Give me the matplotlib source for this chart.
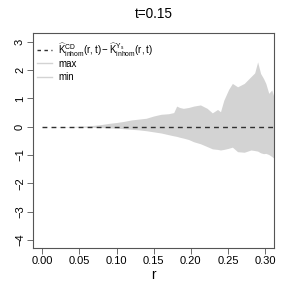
import matplotlib
matplotlib.use("Agg")
import matplotlib.pyplot as plt
from matplotlib.lines import Line2D

plt.rcParams['font.family'] = ['Liberation Sans', 'DejaVu Sans']
plt.rcParams['mathtext.fontset'] = 'custom'
plt.rcParams['mathtext.rm'] = 'Liberation Sans'
plt.rcParams['mathtext.it'] = 'Liberation Sans'
plt.rcParams['mathtext.sf'] = 'Liberation Sans'

title = "t=0.15"
r = [0, 0.02, 0.04, 0.05, 0.06, 0.07, 0.08, 0.09, 0.10,
     0.11, 0.12, 0.13, 0.14, 0.15, 0.16, 0.17,
     0.177, 0.181, 0.185, 0.19, 0.197, 0.204, 0.213, 0.222, 0.229, 0.236, 0.240, 0.2445,
     0.251, 0.256, 0.263, 0.272, 0.281, 0.286, 0.290, 0.294, 0.298, 0.301, 0.305, 0.309, 0.3125]
upper = [0, 0.003, 0.01, 0.02, 0.03, 0.05, 0.08, 0.12, 0.15,
         0.19, 0.24, 0.27, 0.30, 0.38, 0.44, 0.46,
         0.5, 0.73, 0.68, 0.65, 0.68, 0.73, 0.77, 0.65, 0.49, 0.61, 0.53, 0.94,
         1.32, 1.53, 1.41, 1.53, 1.77, 1.9, 2.29, 1.88, 1.7, 1.53, 1.18, 1.3, 1.0]
lower = [0, -0.002, -0.005, -0.01, -0.015, -0.02, -0.03, -0.04, -0.05,
         -0.07, -0.09, -0.11, -0.14, -0.18, -0.22, -0.28,
         -0.32, -0.34, -0.37, -0.4, -0.45, -0.53, -0.6, -0.7, -0.78, -0.8, -0.82, -0.8,
         -0.76, -0.72, -0.88, -0.9, -0.82, -0.84, -0.86, -0.92, -0.95, -0.94, -0.98, -1.05, -1.12]
diff = [0.0 for _ in r]
xticks = [0.00, 0.05, 0.10, 0.15, 0.20, 0.25, 0.30]
xticklabels = ["0.00", "0.05", "0.10", "0.15", "0.20", "0.25", "0.30"]
yticks = [-4, -3, -2, -1, 0, 1, 2, 3]
yticklabels = ["\u22124", "\u22123", "\u22122", "\u22121", "0", "1", "2", "3"]

fig = plt.figure(figsize=(2.91, 2.91), dpi=100)
ax = fig.add_axes([0.1145, 0.1478, 0.827, 0.7388])
ax.fill_between(r, lower, upper, color='#D3D3D3', linewidth=0)
ax.plot(r, diff, color='#303030', linestyle=(0, (3.5, 3)), linewidth=1.0)
ax.set_xlim(-0.012, 0.312)
ax.set_ylim(-4.28, 3.31)
ax.set_xticks(xticks)
ax.set_xticklabels(xticklabels, fontsize=8)
ax.set_yticks(yticks)
ax.set_yticklabels(yticklabels, fontsize=8, rotation=90, va='center')
ax.tick_params(direction='out', length=4, width=0.6, color='#555555', pad=2)
for s in ax.spines.values():
    s.set_linewidth(0.8)
    s.set_color('#555555')
ax.set_title(title, fontsize=9.8, pad=10.5)
ax.set_xlabel("r", fontsize=9.8, labelpad=1)

h1 = [Line2D([0], [0], color='#303030', linestyle=(0, (2.5, 2.5)), linewidth=1.0)]
l1 = [r'$\widehat{\mathrm{K}}^{\mathrm{CD}}_{\mathrm{inhom}}\mathrm{(r,t)}-\widehat{\mathrm{K}}^{\mathrm{Y_s}}_{\mathrm{inhom}}\mathrm{(r,t)}$']
leg1 = ax.legend(h1, l1, loc='center left', frameon=False, fontsize=7,
                 handlelength=1.6, handletextpad=0.6, borderpad=0, borderaxespad=0,
                 bbox_to_anchor=(0.014, 0.921))
ax.add_artist(leg1)
h2 = [Line2D([0], [0], color='#D3D3D3', linewidth=1.0),
      Line2D([0], [0], color='#D3D3D3', linewidth=1.0)]
l2 = ['max', 'min']
ax.legend(h2, l2, loc='center left', frameon=False, fontsize=7,
          handlelength=1.6, handletextpad=0.6, borderpad=0, borderaxespad=0,
          labelspacing=0.35, bbox_to_anchor=(0.014, 0.8256))

fig.savefig("out.png", dpi=100)
